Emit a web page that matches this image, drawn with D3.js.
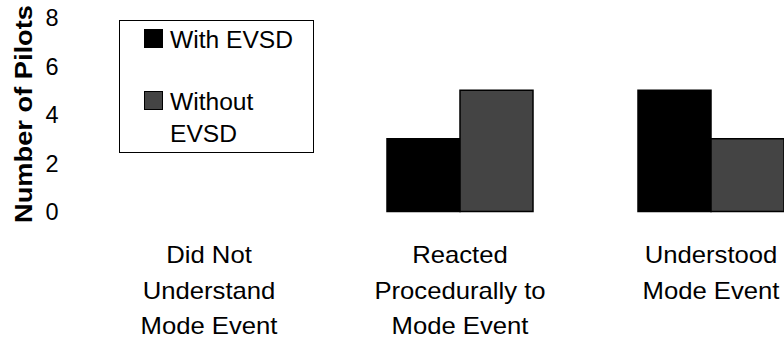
<!DOCTYPE html>
<html><head><meta charset="utf-8">
<script src="https://cdn.jsdelivr.net/npm/d3@7"></script>
<style>html,body{margin:0;padding:0;background:#fff;}svg{display:block;}</style>
</head><body>
<script>
const categories = [["Did Not","Understand","Mode Event"],["Reacted","Procedurally to","Mode Event"],["Understood","Mode Event"]];
const seriesNames = ["With EVSD","Without EVSD"];
const withEVSD = [0, 3, 5];
const withoutEVSD = [0, 5, 3];
const yTicks = [0, 2, 4, 6, 8];
const colors = ["#000000", "#444444"];

const W = 784, H = 341;
const svg = d3.select("body").append("svg").attr("width", W).attr("height", H);
const font = "'Liberation Sans', Arial, sans-serif";

const catIdx = categories.map((d, i) => i);
const x0 = d3.scaleBand().domain(catIdx).range([83.5, 836.5]).padding(0);
const x1 = d3.scaleBand().domain([0, 1]).range([(251 - 146) / 2, (251 + 146) / 2]).padding(0);
const y = d3.scaleLinear().domain([0, 8]).range([211.5, 17.5]);

// y axis labels
const yAxis = d3.axisLeft(y).tickValues(yTicks).tickSize(0).tickPadding(0);
const ga = svg.append("g").attr("transform", "translate(58.5,0)").call(yAxis);
ga.select(".domain").remove();
ga.selectAll(".tick text").attr("font-family", font).attr("font-size", 23.5).attr("fill", "#000")
  .attr("x", 0).attr("dy", "0.36em");

// y title
svg.append("text").attr("transform", "translate(31.5,114) rotate(-90)")
  .attr("text-anchor", "middle").attr("font-family", font).attr("font-weight", "bold")
  .attr("font-size", 24.5).attr("textLength", 218).attr("lengthAdjust", "spacingAndGlyphs")
  .text("Number of Pilots");

// bars
const data = catIdx.map(i => [withEVSD[i], withoutEVSD[i]]);
const g = svg.append("g");
catIdx.forEach(i => {
  data[i].forEach((v, s) => {
    if (v <= 0) return;
    g.append("rect")
      .attr("x", x0(i) + x1(s))
      .attr("y", y(v))
      .attr("width", x1.bandwidth())
      .attr("height", y(0) - y(v))
      .attr("fill", colors[s])
      .attr("stroke", "#000").attr("stroke-width", 1.5);
  });
});

// category labels
catIdx.forEach(i => {
  const cx = x0(i) + x0.bandwidth() / 2;
  const t = svg.append("text").attr("text-anchor", "middle").attr("font-family", font)
    .attr("font-size", 24).attr("fill", "#000")
    .attr("transform", "translate(" + cx + ",0) scale(1.07,1)");
  categories[i].forEach((line, k) => {
    t.append("tspan").attr("x", 0).attr("y", 263 + k * 35.6).text(line);
  });
});

// legend
const lg = svg.append("g");
lg.append("rect").attr("x", 119.5).attr("y", 20.5).attr("width", 194).attr("height", 132)
  .attr("fill", "#fff").attr("stroke", "#000").attr("stroke-width", 1);
const legLines = [["With EVSD"], ["Without", "EVSD"]];
const legY = [29, 91];
seriesNames.forEach((n, s) => {
  lg.append("rect").attr("x", 144.5).attr("y", legY[s] + 0.5).attr("width", 18).attr("height", 18)
    .attr("fill", colors[s]).attr("stroke", "#000").attr("stroke-width", 1);
  const t = lg.append("text").attr("font-family", font).attr("font-size", 24).attr("fill", "#000")
    .attr("transform", "translate(170,0) scale(1.025,1)");
  legLines[s].forEach((line, k) => {
    t.append("tspan").attr("x", 0).attr("y", legY[s] + 19 + k * 32).text(line);
  });
});
</script>
</body></html>
